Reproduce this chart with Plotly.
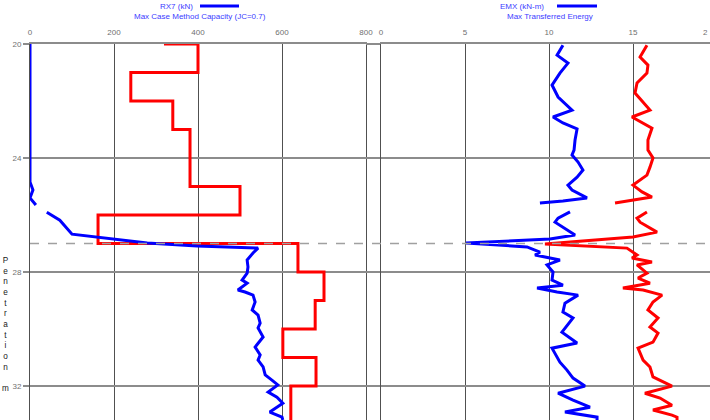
import plotly.graph_objects as go

# ---------------- data ----------------
depth_range = [33.19, 20.0]          # reversed depth axis (m)
depth_ticks = [20, 24, 28, 32]
force_ticks = [0, 200, 400, 600, 800]
energy_ticks = [0, 5, 10, 15]
dash_depth = 27.0

# RX7 (kN) - blue, left panel
rx7_kN = [0, 0, 7, 0, 14, None, 40, 71, 100, 160, 279, 398, 493, 543, 531, 517, 519, 517,
          505, 517, 495, 512, 531, 536, 529, 543, 548, 543, 555, 536, 548, 543, 555, 560,
          576, 590, 567, 588, 602, 571, 600, 602]
rx7_depth = [20.0, 24.84, 25.12, 25.4, 25.65, None, 25.9, 26.18, 26.67, 26.77, 26.98, 27.09,
             27.12, 27.16, 27.33, 27.58, 27.82, 28.04, 28.28, 28.39, 28.63, 28.70, 28.81,
             29.05, 29.33, 29.51, 29.79, 29.96, 30.28, 30.63, 30.91, 31.09, 31.33, 31.61,
             31.79, 31.96, 32.21, 32.39, 32.60, 32.91, 33.09, 33.19]

# Max Case Method Capacity (JC=0.7) - red step, left panel
cap_kN = [319, 400, 240, 340, 381, 500, 162, 638, 700, 679, 602, 681, 621, 621]
cap_depth = [20, 20, 21, 22, 23, 25, 26, 27, 28, 29, 30, 31, 32, 33.19]

# EMX (kN-m) - blue, right panel
emx = [10.83, 10.48, 11.13, 10.65, 10.18, 10.54, 11.37, 10.24, 10.83, 11.67, 11.55, 11.49,
       11.37, 11.73, 12.02, 11.67, 11.13, 11.37, 12.26, 10.83, 9.46, None, 11.25, 10.54,
       10.36, 10.83, 11.55, 10.06, 5.06, 8.69, 9.46, 9.17, 10.65, 9.88, 10.24, 10.18, 10.83,
       9.29, 10.48, 11.73, 10.95, 10.83, 11.43, 10.77, 11.67, 10.18, 10.65, 11.07, 11.43,
       12.14, 10.54, 11.43, 12.44, 10.95, 12.86, 12.86]
emx_depth = [20.04, 20.39, 20.67, 21.02, 21.44, 21.86, 22.32, 22.56, 22.77, 22.98, 23.37,
             23.72, 23.89, 24.14, 24.42, 24.67, 24.95, 25.12, 25.40, 25.51, 25.58, None,
             25.89, 26.11, 26.25, 26.42, 26.70, 26.84, 26.98, 27.12, 27.30, 27.40, 27.58,
             27.75, 28.00, 28.28, 28.46, 28.56, 28.70, 28.81, 29.09, 29.40, 29.61, 30.11,
             30.49, 30.67, 31.16, 31.44, 31.72, 32.0, 32.25, 32.49, 32.74, 32.91, 33.09, 33.19]

# Max Transferred Energy - red, right panel
etr = [15.83, 15.42, 15.89, 15.83, 15.24, 15.12, 16.01, 14.94, 16.13, 15.89, 15.89, 16.19,
       16.01, 15.83, 15.0, 15.54, 16.13, 13.93, None, 15.83, 15.24, 15.42, 15.89, 16.43, 15.0,
       9.76, 14.64, 15.24, 14.94, 16.13, 15.24, 15.83, 15.30, 16.01, 14.40, 15.60, 16.73,
       16.19, 15.89, 16.49, 16.01, 16.49, 16.19, 15.30, 15.60, 16.01, 16.19, 17.32, 15.71,
       16.61, 17.32, 16.19, 17.32, 17.62, 17.62]
etr_depth = [20.04, 20.46, 20.74, 21.02, 21.37, 21.72, 22.32, 22.56, 22.95, 23.37, 23.72, 24.0,
             24.32, 24.60, 24.95, 25.19, 25.37, 25.58, None, 25.89, 26.11, 26.25, 26.42, 26.60,
             26.77, 27.02, 27.16, 27.40, 27.51, 27.65, 27.75, 28.04, 28.21, 28.39, 28.56,
             28.63, 28.81, 29.05, 29.33, 29.61, 29.93, 30.14, 30.46, 30.67, 31.09, 31.33,
             31.68, 32.0, 32.25, 32.42, 32.67, 32.84, 33.02, 33.09, 33.19]

# ---------------- figure ----------------
BLUE = "#0000ff"
RED = "#ff0000"
TXT_BLUE = "#3c3cff"
GRID_V = "#505050"
GRID_H = "#8c8c8c"
TICK_TXT = "#707070"
FONT = "Liberation Sans"

fig = go.Figure()
fig.add_trace(go.Scatter(x=cap_kN, y=cap_depth, mode="lines", line=dict(color=RED, width=3, shape="vh"),
                         xaxis="x", yaxis="y", showlegend=False, connectgaps=False))
fig.add_trace(go.Scatter(x=rx7_kN, y=rx7_depth, mode="lines", line=dict(color=BLUE, width=3),
                         xaxis="x", yaxis="y", showlegend=False, connectgaps=False))
fig.add_trace(go.Scatter(x=emx, y=emx_depth, mode="lines", line=dict(color=BLUE, width=3),
                         xaxis="x2", yaxis="y2", showlegend=False, connectgaps=False))
fig.add_trace(go.Scatter(x=etr, y=etr_depth, mode="lines", line=dict(color=RED, width=3),
                         xaxis="x2", yaxis="y2", showlegend=False, connectgaps=False))

W, H = 710, 420
ml, mt = 30, 44
pw = W - ml
left_dom = [0, 336 / pw]
right_dom = [351 / pw, 1]
right_max = (pw - 351) / 16.8

xcommon = dict(side="top", showgrid=True, gridcolor=GRID_V, gridwidth=1, zeroline=False,
               showline=True, linecolor=GRID_H, linewidth=2, ticks="outside", ticklen=4,
               tickcolor="rgba(0,0,0,0)", automargin=False,
               tickfont=dict(size=8, color=TICK_TXT, family=FONT))
ycommon = dict(range=depth_range, tickvals=depth_ticks, showgrid=True, gridcolor=GRID_H,
               gridwidth=1.5, zeroline=False, showline=True, linecolor=GRID_V, linewidth=1,
               mirror=True, ticks="outside", tickcolor=GRID_H, tickwidth=1.5, automargin=False,
               tickfont=dict(size=8, color=TICK_TXT, family=FONT))

fig.update_layout(
    width=W, height=H,
    margin=dict(l=ml, r=0, t=mt, b=0, pad=0),
    paper_bgcolor="white", plot_bgcolor="white",
    font=dict(family=FONT, size=8),
    hovermode=False,
    xaxis=dict(domain=left_dom, range=[0, 800], tickvals=force_ticks, anchor="y", **xcommon),
    xaxis2=dict(domain=right_dom, range=[0, right_max], tickvals=energy_ticks, anchor="y2", **xcommon),
    yaxis=dict(anchor="x", ticklen=6, **ycommon),
    yaxis2=dict(anchor="x2", ticklen=14, showticklabels=False, **ycommon),
)

def px_x(p):
    return (p - ml) / pw

def px_y(p):
    return 1 + (mt - p) / (H - mt)

shapes = [
    dict(type="line", xref="paper", yref="y", x0=0, x1=1, y0=dash_depth, y1=dash_depth,
         line=dict(color="#a0a0a0", width=1.5, dash="dash")),
    dict(type="line", xref="paper", yref="paper", x0=px_x(200), x1=px_x(239), y0=px_y(6), y1=px_y(6),
         line=dict(color=BLUE, width=3)),
    dict(type="line", xref="paper", yref="paper", x0=px_x(557), x1=px_x(597), y0=px_y(6), y1=px_y(6),
         line=dict(color=BLUE, width=3)),
]
fig.update_layout(shapes=shapes)

ann = [
    dict(text="RX7 (kN)", x=px_x(176), y=px_y(6)),
    dict(text="Max Case Method Capacity (JC=0.7)", x=px_x(199.5), y=px_y(17)),
    dict(text="EMX (kN-m)", x=px_x(522), y=px_y(6)),
    dict(text="Max Transferred Energy", x=px_x(550), y=px_y(17)),
]
annotations = []
for a in ann:
    annotations.append(dict(xref="paper", yref="paper", showarrow=False, xanchor="center",
                            yanchor="middle", font=dict(size=8, color=TXT_BLUE, family=FONT), **a))
# partially visible "20" tick of the energy axis at the right edge
annotations.append(dict(xref="paper", yref="paper", showarrow=False, x=1.0, y=px_y(32),
                        xanchor="right", yanchor="middle", text="2",
                        font=dict(size=8, color=TICK_TXT, family=FONT)))
annotations.append(dict(xref="paper", yref="paper", showarrow=False, x=px_x(5), y=px_y(324),
                        xanchor="center", yanchor="middle",
                        text="<br>".join(list("Penetration") + ["", "m"]),
                        font=dict(size=8.2, color="#202020", family=FONT)))
fig.update_layout(annotations=annotations)

fig.write_html("out.html", config={"displayModeBar": False, "staticPlot": True},
               post_script="document.body.style.margin='0';document.body.style.overflow='hidden';")
